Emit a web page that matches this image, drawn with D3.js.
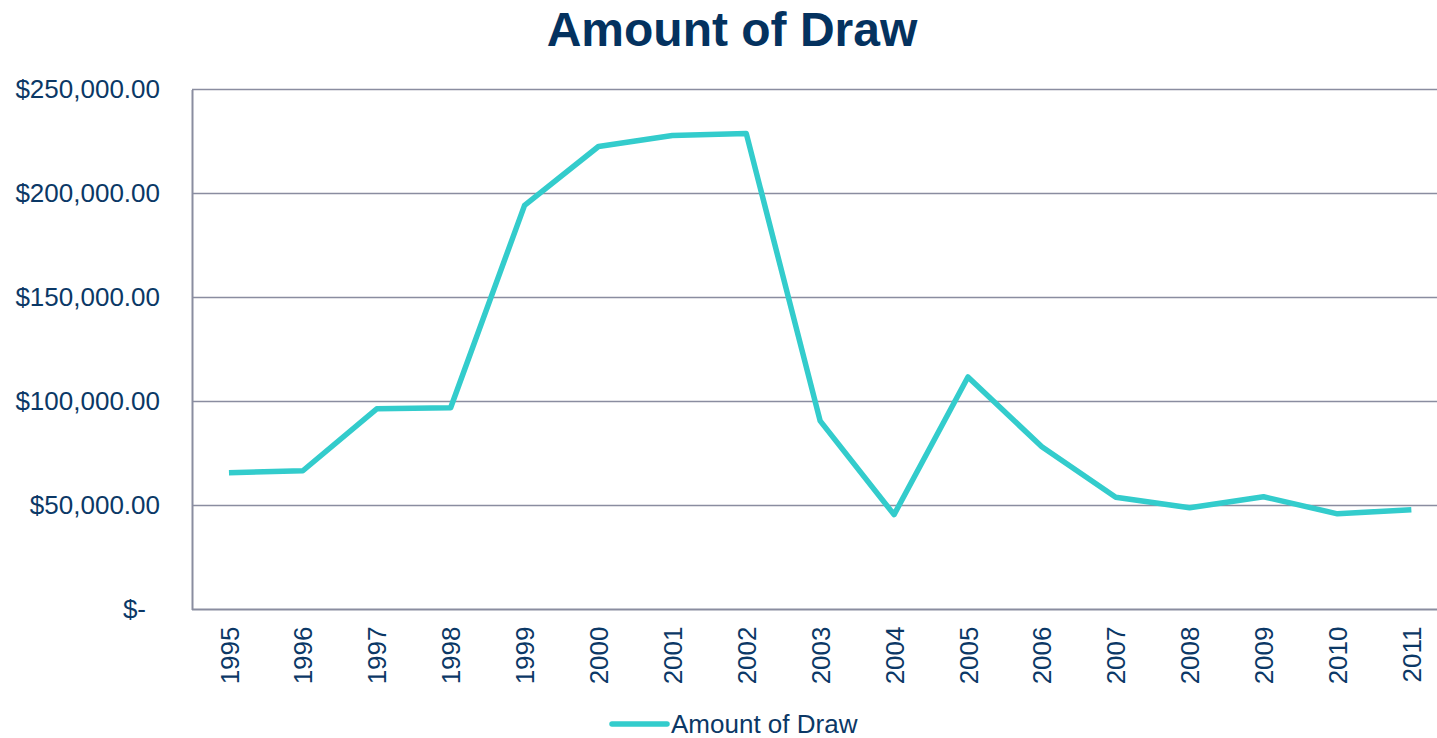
<!DOCTYPE html>
<html>
<head>
<meta charset="utf-8">
<script src="https://cdn.jsdelivr.net/npm/d3@7"></script>
<style>
  body { margin: 0; background: #fff; }
  text { font-family: "Liberation Sans", Arial, sans-serif; }
</style>
</head>
<body>
<div id="chart"></div>
<script>
// data
let years = ["1995","1996","1997","1998","1999","2000","2001","2002","2003",
             "2004","2005","2006","2007","2008","2009","2010","2011"];
let amounts = [65800, 66700, 96500, 97000, 194300, 222600, 227900, 228900, 90700,
               45600, 111800, 78200, 54000, 48900, 54200, 46000, 48000];
let yTicks = [0, 50000, 100000, 150000, 200000, 250000];
let seriesName = "Amount of Draw";

let width = 1437, height = 738;
let margin = {left: 192, top: 89, right: 0, bottom: 128};
let plotRight = 192 + 17 * 73.9;
let navy = "#0B3866";
let gridColor = "#8A8DA0";
let lineColor = "#33CCCC";

let svg = d3.select("#chart")
    .append("svg")
    .attr("width", width)
    .attr("height", height);

let x = d3.scalePoint()
    .domain(years)
    .range([margin.left, plotRight])
    .padding(0.5);

let y = d3.scaleLinear()
    .domain([0, 250000])
    .range([height - margin.bottom - 0.5, margin.top + 0.5]);

// title
svg.append("text")
    .attr("x", 732)
    .attr("y", 46)
    .style("text-anchor", "middle")
    .style("font-size", "48px")
    .style("font-weight", "bold")
    .style("fill", "#04325F")
    .text(seriesName);

// gridlines
svg.append("g")
    .selectAll("line")
    .data(yTicks.slice(1))
    .enter()
    .append("line")
    .attr("x1", margin.left)
    .attr("x2", width)
    .attr("y1", d => y(d))
    .attr("y2", d => y(d))
    .attr("stroke", gridColor)
    .attr("stroke-width", 1.5);

// y axis
let fmt = d3.format(",.2f");
let yAxis = svg.append("g")
    .attr("transform", `translate(${margin.left}, 0)`)
    .call(d3.axisLeft(y).tickValues(yTicks).tickSize(0).tickPadding(32)
        .tickFormat(d => d === 0 ? "$-" : "$" + fmt(d)));
yAxis.select(".domain").attr("stroke", gridColor).attr("stroke-width", 2);
yAxis.selectAll("text")
    .style("font-size", "26px")
    .style("fill", navy)
    .attr("dx", d => d === 0 ? -14 : 0);

// x axis
let xAxis = svg.append("g")
    .attr("transform", `translate(0, ${y(0)})`)
    .call(d3.axisBottom(x).tickSize(0).tickSizeOuter(0));
xAxis.select(".domain")
    .attr("d", `M${margin.left},0H${width}`)
    .attr("stroke", gridColor).attr("stroke-width", 2);
xAxis.selectAll("text")
    .attr("transform", "rotate(-90)")
    .attr("x", -17)
    .attr("y", 0)
    .attr("dy", "0.35em")
    .style("text-anchor", "end")
    .style("font-size", "26px")
    .style("fill", navy);

// line
let line = d3.line()
    .x((d, i) => x(years[i]))
    .y(d => y(d));

svg.append("path")
    .datum(amounts)
    .attr("d", line)
    .attr("fill", "none")
    .attr("stroke", lineColor)
    .attr("stroke-width", 5.5)
    .attr("stroke-linejoin", "round");

// legend
let legend = svg.append("g");
legend.append("line")
    .attr("x1", 612).attr("x2", 667)
    .attr("y1", 724).attr("y2", 724)
    .attr("stroke", lineColor)
    .attr("stroke-width", 5.5)
    .attr("stroke-linecap", "round");
legend.append("text")
    .attr("x", 671)
    .attr("y", 733)
    .style("font-size", "26px")
    .style("fill", navy)
    .text(seriesName);
</script>
</body>
</html>
